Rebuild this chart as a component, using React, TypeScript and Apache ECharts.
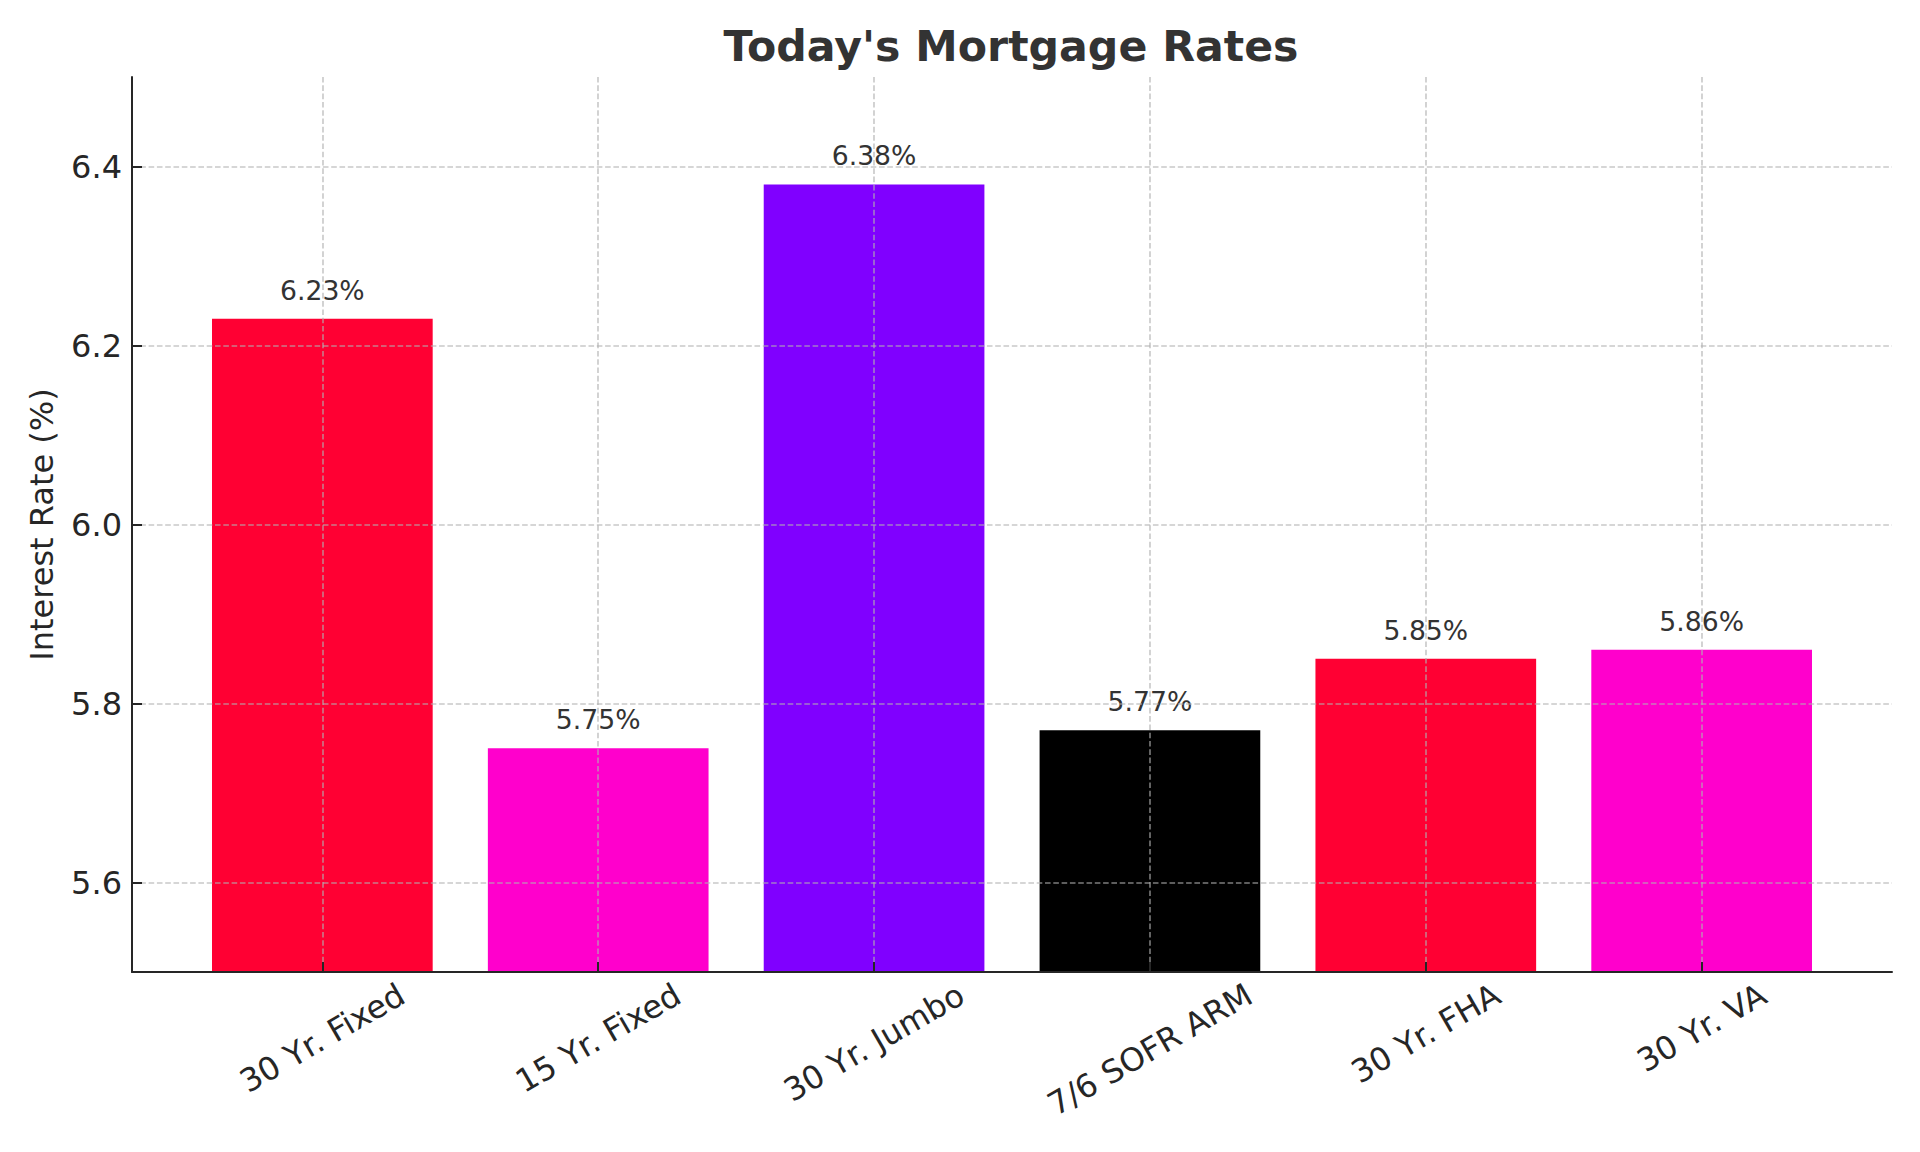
import React, { useEffect, useRef } from 'react';
import * as echarts from 'echarts';

const categories = ['30 Yr. Fixed', '15 Yr. Fixed', '30 Yr. Jumbo', '7/6 SOFR ARM', '30 Yr. FHA', '30 Yr. VA'];
const rates = [6.23, 5.75, 6.38, 5.77, 5.85, 5.86];
const barColors = ['#FF0033', '#FF00CC', '#8000FF', '#000000', '#FF0033', '#FF00CC'];
const yTickValues = [5.6, 5.8, 6.0, 6.2, 6.4];
const xTickValues = [0, 1, 2, 3, 4, 5];
const titleText = "Today's Mortgage Rates";
const yAxisTitle = 'Interest Rate (%)';

const FONT = "'DejaVu Sans', 'Noto Sans', sans-serif";
const AXIS_COLOR = '#262626';
const gridLine = {
  color: 'rgba(176,176,176,0.7)',
  width: 1.6,
  type: [5.6, 2.7] as number[],
};

function measureText(text: string, font: string): number {
  const c = document.createElement('canvas');
  const ctx = c.getContext('2d');
  if (!ctx) return text.length * 16;
  ctx.font = font;
  return ctx.measureText(text).width;
}

export default function App() {
  const ref = useRef<HTMLDivElement>(null);

  useEffect(() => {
    if (!ref.current) return;
    const chart = echarts.init(ref.current, undefined, { renderer: 'svg' });

    const xMin = -0.69;
    const xMax = 5.69;

    const labelAxes = categories.map((cat, i) => {
      const w = measureText(cat, "32px 'DejaVu Sans'");
      const margin = 20.1 + 0.25 * w;
      return {
        type: 'value',
        gridIndex: 0,
        position: 'bottom',
        min: xMin,
        max: xMax,
        axisLine: { show: false, onZero: false },
        axisTick: { show: false },
        splitLine: { show: false },
        axisLabel: {
          show: true,
          customValues: [xTickValues[i]],
          formatter: () => cat,
          rotate: 30,
          align: 'center',
          verticalAlign: 'middle',
          margin,
          fontSize: 32,
          fontFamily: FONT,
          color: AXIS_COLOR,
        },
      };
    });

    const option: any = {
      animation: false,
      backgroundColor: '#ffffff',
      title: {
        text: titleText,
        left: 1006,
        top: 19,
        textAlign: 'center',
        textStyle: {
          fontSize: 42.67,
          fontWeight: 'bold',
          fontFamily: FONT,
          color: '#333333',
        },
      },
      grid: { left: 132, right: 28, top: 77, bottom: 180, containLabel: false },
      xAxis: [
        {
          type: 'value',
          gridIndex: 0,
          position: 'bottom',
          min: xMin,
          max: xMax,
          z: 5,
          axisLine: { show: true, onZero: false, lineStyle: { color: AXIS_COLOR, width: 2 } },
          axisTick: {
            show: true,
            inside: true,
            length: 10,
            customValues: xTickValues,
            lineStyle: { color: AXIS_COLOR, width: 2 },
          },
          axisLabel: { show: false },
          splitLine: { show: true, lineStyle: gridLine },
        },
        ...labelAxes,
      ],
      yAxis: {
        type: 'value',
        min: 5.5,
        max: 6.5,
        startValue: 5.5,
        position: 'left',
        z: 5,
        name: yAxisTitle,
        nameLocation: 'middle',
        nameGap: 74,
        nameTextStyle: { fontSize: 32, fontFamily: FONT, color: AXIS_COLOR },
        axisLine: { show: true, onZero: false, lineStyle: { color: AXIS_COLOR, width: 2 } },
        axisTick: {
          show: true,
          inside: true,
          length: 10,
          customValues: yTickValues,
          lineStyle: { color: AXIS_COLOR, width: 2 },
        },
        axisLabel: {
          show: true,
          customValues: yTickValues,
          formatter: (v: number) => v.toFixed(1),
          fontSize: 32,
          fontFamily: FONT,
          color: AXIS_COLOR,
          margin: 10,
        },
        splitLine: { show: true, lineStyle: gridLine },
      },
      series: [
        {
          type: 'bar',
          xAxisIndex: 0,
          yAxisIndex: 0,
          barWidth: '80%',
          clip: true,
          data: categories.map((_, i) => ({
            value: [xTickValues[i], rates[i]],
            itemStyle: { color: barColors[i] },
          })),
          label: {
            show: true,
            position: 'top',
            distance: 15,
            fontSize: 26.67,
            fontFamily: FONT,
            color: '#333333',
            formatter: (p: any) => p.value[1].toFixed(2) + '%',
          },
        },
      ],
    };

    chart.setOption(option);
    return () => chart.dispose();
  }, []);

  return (
    <div
      ref={ref}
      style={{ position: 'fixed', left: 0, top: 0, width: 1920, height: 1152, background: '#fff' }}
    />
  );
}
